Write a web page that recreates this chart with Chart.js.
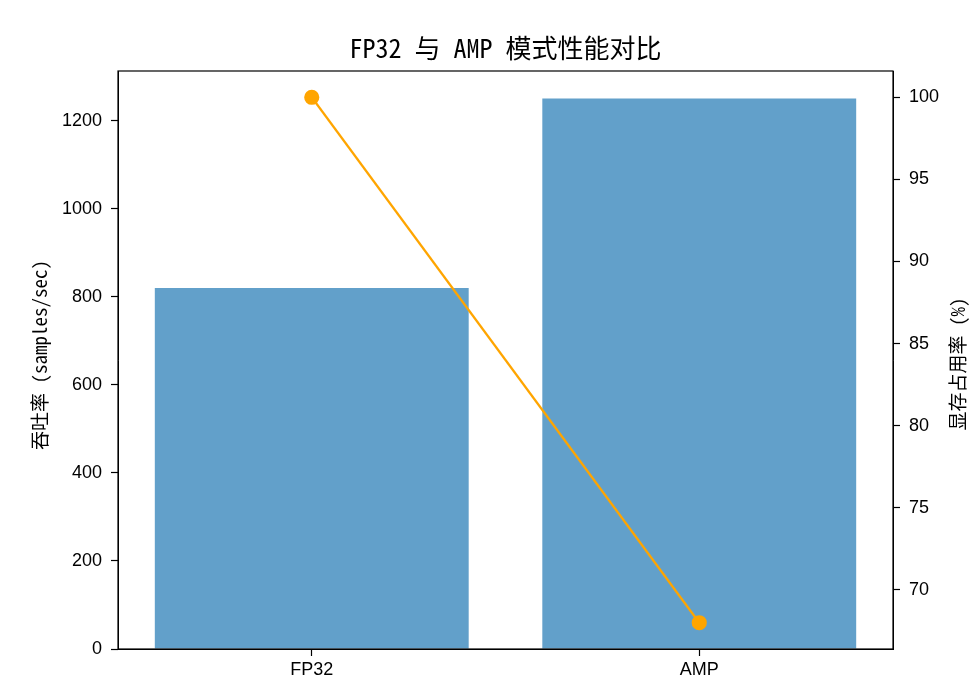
<!DOCTYPE html>
<html>
<head>
<meta charset="utf-8">
<script src="https://cdn.jsdelivr.net/npm/chart.js@4/dist/chart.umd.min.js"></script>
<style>
  html, body { margin: 0; padding: 0; background: #fff; }
  #wrap { width: 980px; height: 691px; }
</style>
</head>
<body>
<div id="wrap"><canvas id="c"></canvas></div>
<script>
const categories = ['FP32', 'AMP'];
const throughput = [820, 1250];
const memoryUsage = [100, 68];

const TITLE = 'FP32 与 AMP 模式性能对比';
const FONT = '"Noto Sans Mono CJK SC", "Noto Sans CJK SC", "DejaVu Sans Mono", monospace';
const TICK_FONT = '"Liberation Sans", Arial, sans-serif';

// box around the plot, title centred over the plot, rotated axis titles (matplotlib look)
const framePlugin = {
  id: 'frame',
  afterDraw(chart) {
    const { ctx, chartArea: a } = chart;
    ctx.save();
    ctx.strokeStyle = '#000';
    ctx.lineWidth = 1.2;
    ctx.strokeRect(a.left, a.top, a.right - a.left, a.bottom - a.top);

    ctx.fillStyle = '#000';
    ctx.font = '26px ' + FONT;
    ctx.textAlign = 'center';
    ctx.textBaseline = 'middle';
    ctx.fillText(TITLE, (a.left + a.right) / 2, 48);
    ctx.restore();

    const vtitle = (text, x, y) => {
      ctx.save();
      ctx.fillStyle = '#000';
      ctx.font = '19px ' + FONT;
      ctx.textAlign = 'center';
      ctx.textBaseline = 'middle';
      ctx.translate(x, y);
      ctx.rotate(-Math.PI / 2);
      ctx.fillText(text, 0, 0);
      ctx.restore();
    };
    vtitle('吞吐率 (samples/sec)', 40, 355);
    vtitle('显存占用率 (%)', 958, 364);
  }
};

const keepSteps = step => scale => {
  scale.ticks = scale.ticks.filter(t => Math.abs(t.value / step - Math.round(t.value / step)) < 1e-6);
};

const tickFont = { family: TICK_FONT, size: 18 };
const tickGrid = { drawOnChartArea: false, tickLength: 7, tickWidth: 1.2, color: '#000' };

new Chart(document.getElementById('c'), {
  data: {
    labels: categories,
    datasets: [
      {
        type: 'line',
        label: '显存占用率',
        data: memoryUsage,
        yAxisID: 'y1',
        borderColor: '#FFA500',
        backgroundColor: '#FFA500',
        borderWidth: 2.2,
        pointRadius: 6.5,
        pointHoverRadius: 6.5,
        order: 0
      },
      {
        type: 'bar',
        label: '吞吐率',
        data: throughput,
        yAxisID: 'y',
        backgroundColor: 'rgba(31, 119, 180, 0.7)',
        categoryPercentage: 1,
        barPercentage: 0.81,
        order: 1
      }
    ]
  },
  options: {
    responsive: true,
    maintainAspectRatio: false,
    animation: false,
    devicePixelRatio: 1,
    layout: { padding: { top: 71 } },
    plugins: {
      legend: { display: false },
      tooltip: { enabled: false },
      title: { display: false }
    },
    scales: {
      x: {
        grid: { ...tickGrid, offset: false },
        border: { color: '#000' },
        ticks: { color: '#000', font: tickFont, padding: 3 },
        afterFit: s => { s.height = 42; }
      },
      y: {
        position: 'left',
        min: 0,
        max: 1312.5,
        afterBuildTicks: keepSteps(200),
        grid: tickGrid,
        border: { color: '#000' },
        ticks: { stepSize: 200, color: '#000', font: tickFont, padding: 9, callback: v => String(v) },
        afterFit: s => { s.width = 118; }
      },
      y1: {
        position: 'right',
        min: 66.4,
        max: 101.6,
        afterBuildTicks: keepSteps(5),
        grid: tickGrid,
        border: { color: '#000' },
        ticks: { stepSize: 5, color: '#000', font: tickFont, padding: 9, callback: v => String(v) },
        afterFit: s => { s.width = 87; }
      }
    }
  },
  plugins: [framePlugin]
});
</script>
</body>
</html>
